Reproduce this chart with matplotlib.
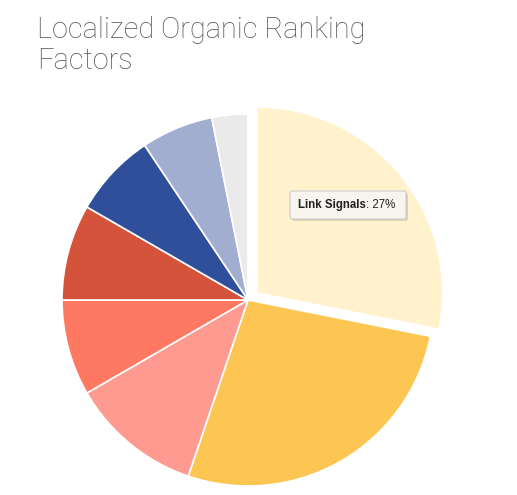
import matplotlib
matplotlib.use("Agg")
import matplotlib.pyplot as plt
from matplotlib.patches import FancyBboxPatch

title = "Localized Organic Ranking\nFactors"
categories = ["Link Signals", "On-Page Signals", "Behavioral Signals", "Personalization",
              "Citation Signals", "My Business Signals", "Review Signals", "Social Signals"]
values = [27, 26, 11, 8, 8, 7, 6, 3]
colors = ["#FFF2CC", "#FDC652", "#FF9A91", "#FF7862", "#D4533A", "#2F4F9B", "#A1AED0", "#EAEAEA"]
tooltip_index = 0

W, H = 517, 495
fig = plt.figure(figsize=(W / 100, H / 100), dpi=100)
ax = fig.add_axes([0, 0, 1, 1])
cx, cy, R = 248, 300, 186

explode = [0.06 if i == tooltip_index else 0 for i in range(len(values))]
ax.pie(values, colors=colors, startangle=90, counterclock=False, explode=explode,
       radius=1, center=(0, 0), frame=True,
       wedgeprops=dict(edgecolor="white", linewidth=1.2))
ax.set_xlim(-cx / R, (W - cx) / R)
ax.set_ylim(-(H - cy) / R, cy / R)
ax.axis("off")

fig.text(37 / W, 1 - 16 / H, title, ha="left", va="top", fontsize=20.8,
         family="Roboto", fontweight="light", color="#555555", linespacing=1.12)

# tooltip
bx0, by0, bx1, by1 = 290, 191, 406, 219
shadow = FancyBboxPatch(((bx0 + 2) / W, 1 - (by1 + 2) / H), (bx1 - bx0) / W, (by1 - by0) / H,
                        boxstyle="round,pad=0,rounding_size=0.004", transform=fig.transFigure,
                        facecolor="#00000022", edgecolor="none", zorder=9)
fig.add_artist(shadow)
box = FancyBboxPatch((bx0 / W, 1 - by1 / H), (bx1 - bx0) / W, (by1 - by0) / H,
                     boxstyle="round,pad=0,rounding_size=0.004", transform=fig.transFigure,
                     facecolor="#F7F5EE", edgecolor="#CCCCCC", linewidth=0.8, zorder=10)
fig.add_artist(box)
t1 = fig.text(298 / W, 1 - 205 / H, categories[tooltip_index], ha="left", va="center",
              fontsize=8.3, family="Liberation Sans", fontweight="bold", color="#222222", zorder=11)
fig.canvas.draw()
ext = t1.get_window_extent()
fig.text(ext.x1 / W, 1 - 205 / H, f": {values[tooltip_index]:g}%", ha="left", va="center",
         fontsize=8.3, family="Liberation Sans", color="#222222", zorder=11)

fig.savefig("out.png", dpi=100)
